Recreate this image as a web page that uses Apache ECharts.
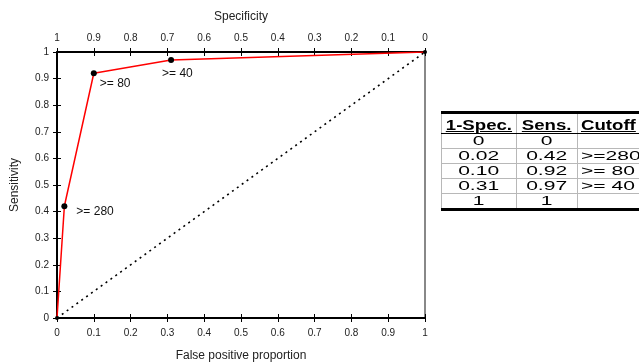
<!DOCTYPE html>
<html><head><meta charset="utf-8">
<script src="https://cdn.jsdelivr.net/npm/echarts@6/dist/echarts.min.js"></script>
<style>
html,body{margin:0;padding:0;width:639px;height:363px;overflow:hidden;background:#fff;}
#c{position:absolute;left:0;top:0;width:639px;height:363px;}
#tbl{position:absolute;left:441px;top:111px;table-layout:fixed;width:210px;
 border-collapse:collapse;font-family:Arial,"Liberation Sans",sans-serif;font-size:13px;color:#000;}
#tbl td,#tbl th{padding:0;height:14px;line-height:14px;border:1px solid #b8b8b8;white-space:nowrap;overflow:hidden;}
#tbl th{font-weight:bold;height:19px;border-top:3px solid #000;border-bottom:1px solid #000;vertical-align:bottom;}
#tbl tr:last-child td{border-bottom:3px solid #000;}
#tbl .c1,#tbl .c2{text-align:center;}
#tbl .c3{text-align:left;padding-left:3px;}
#tbl span{display:inline-block;transform-origin:50% 50%;}
#tbl .c3 span{transform-origin:0 50%;}
#tbl th span{transform:scaleX(1.33);text-decoration:underline;font-size:14px;}
#tbl td span{transform:scaleX(1.62);}
</style></head>
<body>
<div id="c"></div>
<table id="tbl"><colgroup><col style="width:75px"><col style="width:61px"><col style="width:74px"></colgroup></table>
<script>
const fpr = [0, 0.02, 0.10, 0.31, 1];
const sens = [0, 0.42, 0.92, 0.97, 1];
const cutoffs = ['', '>= 280', '>= 80', '>= 40', ''];
const tableSpec = ['0', '0.02', '0.10', '0.31', '1'];
const tableSens = ['0', '0.42', '0.92', '0.97', '1'];
const tableCut = ['', '>=280', '>= 80', '>= 40', ''];
const tableHeader = ['1-Spec.', 'Sens.', 'Cutoff'];
const diagX = [0, 1];
const diagY = [0, 1];
const labelOffsets = [[0,0],[12,5],[6,10],[-9,14],[0,0]];

// table
const tbl = document.getElementById('tbl');
let h = '<tr><th class="c1"><span>'+tableHeader[0]+'</span></th><th class="c2"><span>'+tableHeader[1]+'</span></th><th class="c3"><span>'+tableHeader[2]+'</span></th></tr>';
for (let i=0;i<tableSpec.length;i++){
  h += '<tr><td class="c1"><span>'+tableSpec[i]+'</span></td><td class="c2"><span>'+tableSens[i]+'</span></td><td class="c3"><span>'+(tableCut[i].replace(/ /g,'&nbsp;')||'&nbsp;')+'</span></td></tr>';
}
tbl.insertAdjacentHTML('beforeend', h);

const chart = echarts.init(document.getElementById('c'), null, {renderer:'canvas'});
const font = 'Arial, "Liberation Sans", sans-serif';
const lab = {fontFamily:font, fontSize:10, color:'#222'};
const nameStyle = {fontFamily:font, fontSize:12, color:'#222'};
const grid = {left:57, right:214, top:52, bottom:45, containLabel:false, outerBoundsMode:'none'};
const tickCross = {show:true, inside:false, length:8, lineStyle:{color:'#000', width:1}};

const rocData = fpr.map((x,i)=>({
  value:[x, sens[i]],
  symbolSize: (i===0||i===fpr.length-1)?4:6,
  label:{show: cutoffs[i]!=='', formatter: cutoffs[i], position:'inside', align:'left', verticalAlign:'middle',
         offset: labelOffsets[i], fontFamily:font, fontSize:12, color:'#111'}
}));

chart.setOption({
  animation:false,
  grid: grid,
  xAxis:[
    {type:'value', position:'bottom', min:0, max:1, interval:0.1, name:'False positive proportion',
     nameLocation:'middle', nameGap:32, nameTextStyle:nameStyle,
     axisLine:{show:true, onZero:false, lineStyle:{color:'#000', width:2}},
     axisTick:{show:false}, axisLabel:Object.assign({margin:10}, lab), splitLine:{show:false}},
    {type:'value', position:'top', inverse:true, min:0, max:1, interval:0.1, name:'Specificity',
     nameLocation:'middle', nameGap:29, nameTextStyle:nameStyle,
     axisLine:{show:true, onZero:false, lineStyle:{color:'#000', width:2}},
     axisTick:{show:false}, axisLabel:Object.assign({margin:9}, lab), splitLine:{show:false}},
    {type:'value', position:'bottom', offset:-4, min:0, max:1, interval:0.1,
     axisLine:{show:false, onZero:false}, axisTick:tickCross, axisLabel:{show:false}, splitLine:{show:false}},
    {type:'value', position:'top', offset:-4, min:0, max:1, interval:0.1,
     axisLine:{show:false, onZero:false}, axisTick:tickCross, axisLabel:{show:false}, splitLine:{show:false}}
  ],
  yAxis:[
    {type:'value', position:'left', min:0, max:1, interval:0.1, name:'Sensitivity',
     nameLocation:'middle', nameGap:36, nameTextStyle:nameStyle,
     axisLine:{show:true, onZero:false, lineStyle:{color:'#000', width:2}},
     axisTick:{show:false}, axisLabel:Object.assign({margin:8}, lab), splitLine:{show:false}},
    {type:'value', position:'left', offset:-4, min:0, max:1, interval:0.1,
     axisLine:{show:false, onZero:false}, axisTick:tickCross, axisLabel:{show:false}, splitLine:{show:false}},
    {type:'value', position:'right', min:0, max:1, interval:0.1,
     axisLine:{show:true, onZero:false, lineStyle:{color:'#888', width:2}}, axisTick:{show:false},
     axisLabel:{show:false}, splitLine:{show:false}}
  ],
  series:[
    {type:'line', xAxisIndex:0, yAxisIndex:0, data: diagX.map((x,i)=>[x, diagY[i]]),
     showSymbol:false, symbol:'none', lineStyle:{color:'#000', width:1.6, type:[2,4]}, z:2},
    {type:'line', xAxisIndex:0, yAxisIndex:0, data: rocData, symbol:'circle',
     itemStyle:{color:'#000'}, lineStyle:{color:'#ff0000', width:1.5}, z:3}
  ]
});
</script>
</body></html>
